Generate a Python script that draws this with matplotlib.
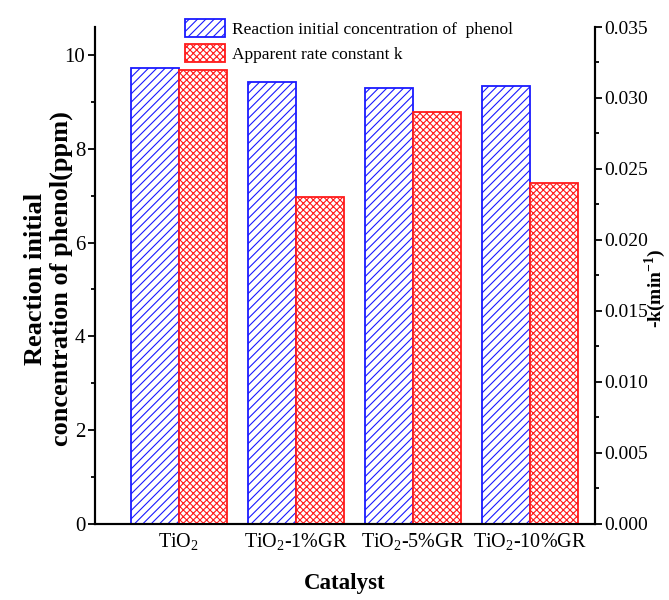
import numpy as np
import matplotlib.pyplot as plt
from matplotlib.ticker import MultipleLocator

plt.rcParams['font.family'] = ['Liberation Serif', 'DejaVu Serif']
plt.rcParams['mathtext.fontset'] = 'custom'
plt.rcParams['mathtext.rm'] = 'Liberation Serif'
plt.rcParams['mathtext.bf'] = 'Liberation Serif:bold'
plt.rcParams['hatch.linewidth'] = 0.8

catalysts = ["TiO$_2$", "TiO$_2$-1%GR", "TiO$_2$-5%GR", "TiO$_2$-10%GR"]
conc = [9.72, 9.42, 9.30, 9.34]
rate_k = [0.032, 0.023, 0.029, 0.024]

x = np.arange(len(catalysts))
w = 0.41

fig = plt.figure(figsize=(6.69, 6.0), dpi=100)
ax = fig.add_axes([0.142, 0.127, 0.747, 0.828])
ax2 = ax.twinx()

b1 = ax.bar(x - w/2, conc, w, facecolor="white", edgecolor="#1a1aff", hatch="////", linewidth=1.3,
            label="Reaction initial concentration of  phenol")
b2 = ax2.bar(x + w/2, rate_k, w, facecolor="white", edgecolor="#ff1a1a", hatch="xxxxx", linewidth=1.3,
             label="Apparent rate constant k")

ax.set_xlim(-0.715, 3.553)
ax.set_ylim(0, 10.6)
ax2.set_ylim(0, 0.035)
ax.set_xticks(x)
ax.set_xticklabels(catalysts, fontsize=14.5)
ax.tick_params(axis="x", length=0, pad=6)

ax.yaxis.set_major_locator(MultipleLocator(2))
ax.yaxis.set_minor_locator(MultipleLocator(1))
ax2.yaxis.set_major_locator(MultipleLocator(0.005))
ax2.yaxis.set_minor_locator(MultipleLocator(0.0025))
ax2.yaxis.set_major_formatter(plt.FormatStrFormatter("%.3f"))
for a in (ax, ax2):
    a.tick_params(axis="y", which="major", direction="out", length=5, width=1.3, labelsize=15, pad=2)
    a.tick_params(axis="y", which="minor", direction="out", length=3, width=1.3)
    a.spines["top"].set_visible(False)
    for s in ("left", "right", "bottom"):
        a.spines[s].set_linewidth(1.5)
ax2.tick_params(axis="y", which="major", labelsize=14)

ax.set_xlabel("Catalyst", fontsize=16.5, fontweight="bold", labelpad=14)
fig.text(0.073, 0.535, "Reaction initial\nconcentration of phenol(ppm)", fontsize=19, fontweight="bold",
         rotation=90, ha="center", va="center", linespacing=1.15)
fig.text(0.979, 0.52, "-k(min$^{\\mathbf{-1}}$)", fontsize=14, fontweight="bold",
         rotation=90, ha="center", va="center")

fig.legend(handles=[b1, b2], loc="upper left", bbox_to_anchor=(0.277, 0.968), frameon=False,
           fontsize=12.5, handlelength=2.3, handleheight=1.2, handletextpad=0.4, labelspacing=0.35,
           borderaxespad=0.0, borderpad=0.0)

fig.savefig("out.png", dpi=100)
